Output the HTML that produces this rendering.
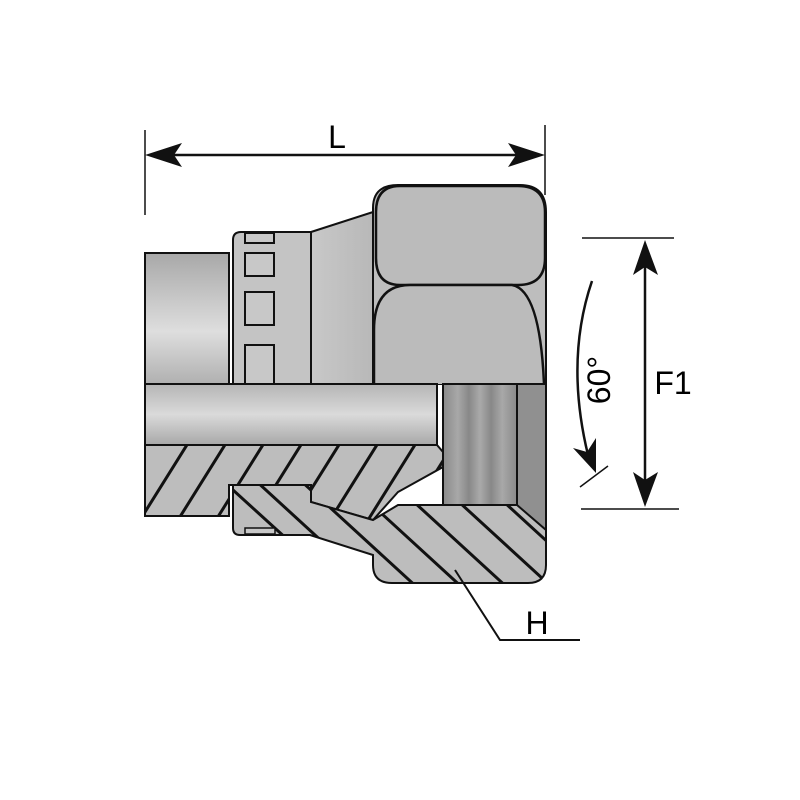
<!DOCTYPE html>
<html><head><style>html,body{margin:0;padding:0;background:#fff}svg{display:block}</style></head>
<body>
<svg width="800" height="800" viewBox="0 0 800 800" xmlns="http://www.w3.org/2000/svg">
<defs>
<linearGradient id="tube" x1="0" y1="0" x2="0" y2="1">
<stop offset="0" stop-color="#a8a8a8"/><stop offset="0.6" stop-color="#dedede"/><stop offset="1" stop-color="#b0b0b0"/></linearGradient>
<linearGradient id="bore" x1="0" y1="0" x2="0" y2="1">
<stop offset="0" stop-color="#b5b5b5"/><stop offset="0.5" stop-color="#dadada"/><stop offset="1" stop-color="#a8a8a8"/></linearGradient>
<linearGradient id="thr" x1="0" y1="0" x2="1" y2="0">
<stop offset="0" stop-color="#8a8a8a"/><stop offset="0.2" stop-color="#a8a8a8"/><stop offset="0.35" stop-color="#888"/><stop offset="0.5" stop-color="#aaa"/><stop offset="0.65" stop-color="#888"/><stop offset="0.8" stop-color="#a8a8a8"/><stop offset="1" stop-color="#8a8a8a"/></linearGradient>
<linearGradient id="cone" x1="0" y1="0" x2="1" y2="0">
<stop offset="0" stop-color="#c8c8c8"/><stop offset="1" stop-color="#b8b8b8"/></linearGradient>
<clipPath id="c1"><path d="M145,445 L437,445 L443,452 L443,467 L398,492 L373,520 L311,502 L311,485 L229,485 L229,516 L145,516 Z"/></clipPath>
<clipPath id="c2"><path d="M233,485 L311,485 L311,502 L373,520 L398,505 L517,505 L546,530 L546,565 Q546,583 528,583 L392,583 Q373,583 373,565 L373,555 L310,535 L240,535 Q233,535 233,528 Z"/></clipPath>
</defs>
<g stroke="#111" stroke-width="2.5" fill="none">
<!-- dimension L -->
<line x1="145" y1="130" x2="145" y2="215" stroke-width="1.5"/>
<line x1="545" y1="125" x2="545" y2="195" stroke-width="1.5"/>
<line x1="160" y1="155" x2="530" y2="155"/>
</g>
<polygon points="145,155 182,143 174,155 182,167" fill="#111"/>
<polygon points="545,155 508,143 516,155 508,167" fill="#111"/>
<text x="337" y="148" font-family="Liberation Sans, sans-serif" font-size="32" text-anchor="middle">L</text>

<!-- left tube -->
<rect x="145" y="253" width="84" height="131" fill="url(#tube)" stroke="#111" stroke-width="2"/>
<!-- cone -->
<path d="M311,232 L373,212 L373,384 L311,384 Z" fill="url(#cone)" stroke="#111" stroke-width="2"/>
<!-- sleeve ring upper -->
<path d="M233,384 L233,240 Q233,232 241,232 L311,232 L311,384 Z" fill="#c4c4c4" stroke="#111" stroke-width="2"/>
<g fill="#c8c8c8" stroke="#111" stroke-width="2">
<rect x="245" y="233" width="29" height="10"/>
<rect x="245" y="253" width="29" height="23"/>
<rect x="245" y="292" width="29" height="33"/>
<rect x="245" y="345" width="29" height="39"/>
</g>
<!-- hex nut upper -->
<path d="M373,384 L373,208 Q373,185 398,185 L520,185 Q546,185 546,212 L546,384 Z" fill="#bdbdbd" stroke="#111" stroke-width="2"/>
<path d="M376,212 Q376,186 400,186 L518,186 Q545,186 545,212 L545,258 Q545,285 518,285 L400,285 Q376,285 376,258 Z" fill="#bbb" stroke="#111" stroke-width="2.5"/>
<path d="M374,384 L374,330 Q374,285 410,285 L512,285 Q540,290 544,384" fill="#bbb" stroke="#111" stroke-width="2.5"/>
<!-- bore -->
<rect x="145" y="384" width="292" height="61" fill="url(#bore)" stroke="#111" stroke-width="2"/>
<!-- threads -->
<rect x="443" y="384" width="74" height="121" fill="url(#thr)" stroke="#111" stroke-width="2"/>
<rect x="517" y="384" width="29" height="146" fill="#909090" stroke="#111" stroke-width="2"/>
<!-- nipple hatched -->
<path d="M145,445 L437,445 L443,452 L443,467 L398,492 L373,520 L311,502 L311,485 L229,485 L229,516 L145,516 Z" fill="#bdbdbd" stroke="#111" stroke-width="2"/>
<g clip-path="url(#c1)" stroke="#111" stroke-width="3">
<line x1="140" y1="520" x2="190" y2="440"/><line x1="178" y1="520" x2="228" y2="440"/><line x1="216" y1="520" x2="266" y2="440"/>
<line x1="254" y1="520" x2="304" y2="440"/><line x1="292" y1="520" x2="342" y2="440"/><line x1="330" y1="520" x2="380" y2="440"/>
<line x1="368" y1="520" x2="418" y2="440"/><line x1="406" y1="520" x2="456" y2="440"/>
</g>
<!-- nut lower hatched -->
<path d="M233,485 L311,485 L311,502 L373,520 L398,505 L517,505 L546,530 L546,565 Q546,583 528,583 L392,583 Q373,583 373,565 L373,555 L310,535 L240,535 Q233,535 233,528 Z" fill="#bdbdbd" stroke="#111" stroke-width="2"/>
<g clip-path="url(#c2)" stroke="#111" stroke-width="3">
<line x1="233" y1="490" x2="343" y2="590"/><line x1="255" y1="480" x2="375" y2="590"/><line x1="300" y1="480" x2="420" y2="590"/>
<line x1="345" y1="480" x2="465" y2="590"/><line x1="390" y1="480" x2="510" y2="590"/><line x1="435" y1="480" x2="555" y2="590"/>
<line x1="480" y1="480" x2="600" y2="590"/>
</g>
<rect x="245" y="528" width="30" height="6" fill="#c8c8c8" stroke="#111" stroke-width="1.5"/>

<!-- F1 -->
<g stroke="#111" stroke-width="1.5">
<line x1="582" y1="238" x2="674" y2="238"/>
<line x1="581" y1="509" x2="679" y2="509"/>
<line x1="580" y1="487" x2="608" y2="466"/>
</g>
<line x1="645" y1="265" x2="645" y2="485" stroke="#111" stroke-width="2.5"/>
<polygon points="645,240 633,275 645,267 658,275" fill="#111"/>
<polygon points="645,507 633,472 645,480 658,472" fill="#111"/>
<text x="673" y="394" font-family="Liberation Sans, sans-serif" font-size="32" text-anchor="middle">F1</text>
<path d="M592,281 Q565,360 588,455" stroke="#111" stroke-width="2.5" fill="none"/>
<polygon points="596,473 573,448 587,452 596,438" fill="#111"/>
<text transform="translate(610,380) rotate(-90)" font-family="Liberation Sans, sans-serif" font-size="32" text-anchor="middle">60°</text>

<!-- H leader -->
<polyline points="455,570 500,640 580,640" stroke="#111" stroke-width="2" fill="none"/>
<text x="537" y="634" font-family="Liberation Sans, sans-serif" font-size="32" text-anchor="middle">H</text>
</svg>
</body></html>
